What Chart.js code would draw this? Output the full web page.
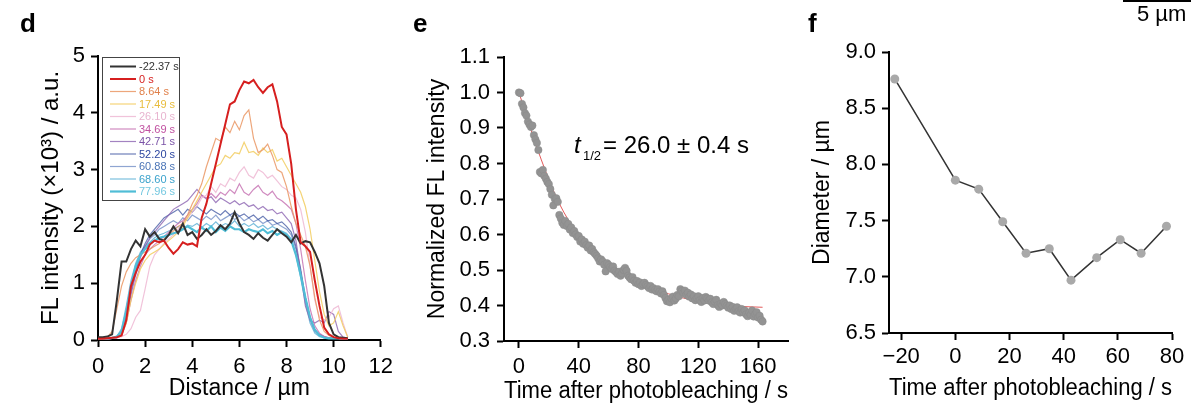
<!DOCTYPE html>
<html><head><meta charset="utf-8">
<script src="https://cdn.jsdelivr.net/npm/chart.js@4/dist/chart.umd.min.js"></script>
<style>
html,body{margin:0;padding:0;background:#fff;width:1191px;height:405px;overflow:hidden;}
canvas{position:absolute;top:0;}
</style></head>
<body>
<canvas id="cd" width="400" height="405" style="left:0px"></canvas>
<canvas id="ce" width="400" height="405" style="left:400px"></canvas>
<canvas id="cf" width="391" height="405" style="left:800px"></canvas>
<script>
// ---------- Panel d data: FL intensity profiles (x10^3 a.u.) vs distance (µm)
const distanceUm = [0,0.2,0.4,0.6,0.8,1.0,1.2,1.4,1.6,1.8,2.0,2.2,2.4,2.6,2.8,3.0,3.2,3.4,3.6,3.8,4.0,4.2,4.4,4.6,4.8,5.0,5.2,5.4,5.6,5.8,6.0,6.2,6.4,6.6,6.8,7.0,7.2,7.4,7.6,7.8,8.0,8.2,8.4,8.6,8.8,9.0,9.2,9.4,9.6,9.8,10.0,10.2,10.4,10.6];
const profileLabels = ['-22.37 s','0 s','8.64 s','17.49 s','26.10 s','34.69 s','42.71 s','52.20 s','60.88 s','68.60 s','77.96 s'];
const prof_m2237 = [0.05,0.05,0.06,0.10,0.70,1.38,1.38,1.60,1.75,1.65, 1.95,1.82,1.90,1.78,1.75,1.85,2.00,1.88,2.05,1.85, 1.90,1.78,1.85,1.95,1.85,1.92,2.02,1.95,2.05,2.25, 2.05,1.90,1.85,1.78,1.88,1.80,1.75,1.85,1.95,1.88, 1.82,1.72,1.85,1.70,1.74,1.72,1.55,1.35,0.95,0.30, 0.10,0.05,0.04,0.03];
const prof_0 = [0.02,0.02,0.03,0.04,0.05,0.08,0.35,0.95,1.18,1.38, 1.50,1.68,1.75,1.72,1.75,1.62,1.52,1.60,1.72,1.68, 1.70,1.65,2.15,2.40,2.75,3.10,3.45,3.80,4.15,4.20, 4.40,4.55,4.52,4.58,4.45,4.35,4.45,4.50,4.20,3.75, 3.62,3.10,2.30,1.72,1.65,1.55,1.05,0.60,0.22,0.10, 0.05,0.03,0.02,0.02];
const prof_864 = [0.03,0.03,0.05,0.15,0.55,0.95,1.20,1.35,1.45,1.50, 1.55,1.60,1.65,1.70,1.78,1.85,1.92,2.00,2.05,2.20, 2.40,2.55,2.75,3.05,3.30,3.55,3.50,3.75,3.65,3.85, 3.70,3.95,4.05,3.55,3.30,3.35,3.45,3.25,3.00,2.95, 2.70,2.35,2.05,1.85,1.65,1.30,0.75,0.35,0.15,0.08, 0.05,0.04,0.03,0.02];
const prof_1749 = [0.02,0.02,0.03,0.04,0.05,0.10,0.30,0.70,1.00,1.25, 1.40,1.50,1.55,1.60,1.68,1.75,1.82,1.90,2.00,2.15, 2.30,2.45,2.60,2.75,2.90,3.05,3.10,3.25,3.20,3.30, 3.28,3.48,3.30,3.32,3.25,3.38,3.30,3.35,3.15,3.20, 3.05,2.90,2.75,2.60,2.35,1.95,1.40,0.85,0.45,0.25, 0.30,0.50,0.25,0.05];
const prof_2610 = [0.02,0.02,0.02,0.03,0.04,0.06,0.10,0.20,0.40,0.52, 0.90,1.30,1.50,1.60,1.70,1.78,1.85,1.95,2.05,2.15, 2.25,2.35,2.50,2.55,2.70,2.60,2.75,2.70,2.85,2.80, 2.95,3.05,2.90,2.85,3.00,2.95,2.85,2.90,2.80,2.70, 2.65,2.55,2.50,2.30,1.90,1.30,0.70,0.40,0.35,0.40, 0.55,0.60,0.30,0.05];
const prof_3469 = [0.02,0.02,0.02,0.03,0.04,0.08,0.30,0.70,1.05,1.30, 1.50,1.60,1.68,1.75,1.82,1.90,1.98,2.05,2.10,2.20, 2.30,2.40,2.55,2.50,2.58,2.50,2.60,2.55,2.65,2.58, 2.75,2.60,2.55,2.65,2.72,2.60,2.55,2.62,2.50,2.45, 2.38,2.30,2.05,1.60,1.05,0.55,0.25,0.12,0.06,0.04, 0.03,0.03,0.02,0.02];
const prof_4271 = [0.02,0.02,0.02,0.03,0.04,0.10,0.35,0.80,1.15,1.45, 1.65,1.80,1.90,2.00,2.10,2.20,2.30,2.35,2.40,2.45, 2.55,2.65,2.55,2.48,2.52,2.42,2.50,2.45,2.40,2.45, 2.38,2.42,2.35,2.38,2.30,2.35,2.28,2.30,2.22,2.25, 2.15,2.05,1.75,1.20,0.60,0.35,0.30,0.35,0.30,0.50, 0.45,0.15,0.05,0.03];
const prof_5220 = [0.02,0.02,0.02,0.03,0.04,0.10,0.40,0.85,1.20,1.50, 1.70,1.85,1.95,2.05,2.15,2.20,2.25,2.30,2.20,2.30, 2.25,2.35,2.28,2.22,2.30,2.25,2.20,2.28,2.20,2.25, 2.18,2.22,2.15,2.20,2.12,2.18,2.10,2.12,2.05,2.08, 2.00,1.90,1.65,1.25,0.75,0.40,0.18,0.10,0.06,0.04, 0.03,0.03,0.02,0.02];
const prof_6088 = [0.02,0.02,0.02,0.03,0.05,0.15,0.45,0.90,1.25,1.50, 1.65,1.78,1.85,1.95,2.00,2.05,2.10,2.05,2.15,2.10, 2.20,2.15,2.10,2.18,2.12,2.20,2.10,2.15,2.20,2.12, 2.18,2.10,2.15,2.08,2.12,2.05,2.10,2.02,2.05,2.00, 1.95,1.85,1.60,1.20,0.70,0.35,0.15,0.08,0.05,0.04, 0.03,0.03,0.02,0.02];
const prof_6860 = [0.03,0.03,0.03,0.04,0.06,0.20,0.60,1.05,1.35,1.55, 1.65,1.72,1.80,1.85,1.88,1.92,1.95,2.00,1.95,2.02, 2.00,2.05,1.98,2.05,2.00,2.08,2.00,2.05,2.02,2.10, 2.00,2.05,2.00,2.05,1.98,2.02,1.95,2.00,1.95,1.92, 1.88,1.78,1.50,1.10,0.65,0.30,0.12,0.06,0.04,0.03, 0.03,0.03,0.02,0.02];
const prof_7796 = [0.03,0.03,0.03,0.04,0.06,0.15,0.50,0.95,1.30,1.50, 1.60,1.70,1.75,1.80,1.82,1.85,1.88,1.90,1.95,2.00, 1.95,1.90,1.98,1.92,2.00,1.90,1.98,1.92,2.00,1.95, 1.95,1.90,1.95,1.92,1.90,1.95,1.88,1.92,1.85,1.90, 1.85,1.75,1.50,1.15,0.75,0.40,0.18,0.08,0.04,0.03, 0.03,0.03,0.02,0.02];

// ---------- Panel e data: normalized FL intensity vs time (s)
const bleachTimes = [0,1,2,3,4,5,6,7,8,9,10,11,12,13,14,15,16,17,18,19,20,21,22,23,24,25,26,27,28,29,30,31,32,33,34,35,36,37,38,39,40,41,42,43,44,45,46,47,48,49,50,51,52,53,54,55,56,57,58,59,60,61,62,63,64,65,66,67,68,69,70,71,72,73,74,75,76,77,78,79,80,81,82,83,84,85,86,87,88,89,90,91,92,93,94,95,96,97,98,99,100,101,102,103,104,105,106,107,108,109,110,111,112,113,114,115,116,117,118,119,120,121,122,123,124,125,126,127,128,129,130,131,132,133,134,135,136,137,138,139,140,141,142,143,144,145,146,147,148,149,150,151,152,153,154,155,156,157,158,159,160,161,162,163];
const bleachValues = [1.000,0.998,0.968,0.958,0.942,0.935,0.918,0.910,0.903,0.907,
0.880,0.868,0.858,0.838,0.776,0.772,0.782,0.765,0.757,0.748,
0.742,0.728,0.712,0.682,0.700,0.702,0.692,0.655,0.645,0.633,
0.627,0.638,0.624,0.630,0.614,0.620,0.604,0.610,0.600,0.593,
0.596,0.580,0.586,0.574,0.580,0.570,0.563,0.569,0.555,0.559,
0.550,0.545,0.540,0.533,0.524,0.530,0.524,0.515,0.496,0.519,
0.514,0.508,0.503,0.510,0.498,0.494,0.489,0.495,0.484,0.490,
0.500,0.506,0.498,0.484,0.479,0.474,0.480,0.470,0.464,0.469,
0.460,0.465,0.455,0.460,0.464,0.458,0.454,0.449,0.455,0.445,
0.449,0.444,0.440,0.446,0.439,0.434,0.440,0.430,0.421,0.412,
0.416,0.409,0.420,0.425,0.414,0.420,0.430,0.426,0.446,0.441,
0.436,0.442,0.430,0.436,0.425,0.431,0.420,0.426,0.415,0.421,
0.426,0.415,0.410,0.421,0.414,0.424,0.420,0.414,0.419,0.409,
0.404,0.411,0.416,0.401,0.396,0.405,0.400,0.410,0.404,0.399,
0.394,0.400,0.390,0.396,0.385,0.391,0.395,0.384,0.380,0.390,
0.381,0.386,0.375,0.370,0.380,0.374,0.386,0.369,0.376,0.381,
0.366,0.371,0.360,0.355];
const fitTimes = [0,5,10,15,20,25,30,35,40,45,50,60,70,80,90,100,110,120,130,140,150,163];
const fitValues = [1.0,0.935,0.87,0.81,0.755,0.705,0.663,0.628,0.598,0.572,0.55,0.515,0.487,0.465,0.447,0.433,0.421,0.412,0.405,0.400,0.397,0.395];

// ---------- Panel f data: diameter vs time
const diamTimes = [-22.37,0,8.64,17.49,26.10,34.69,42.71,52.20,60.88,68.60,77.96];
const diamValues = [8.76,7.86,7.78,7.49,7.21,7.25,6.97,7.17,7.33,7.21,7.45];

// ---------- styling
const FONT = "'Liberation Sans', Arial, Helvetica, sans-serif";
Chart.defaults.font.family = FONT;
Chart.defaults.color = '#000';
Chart.defaults.animation = false;

const lineColors = ['#333333','#d61f1f','rgba(234,150,100,0.85)','rgba(242,205,95,0.85)','rgba(238,185,212,0.85)','rgba(196,110,176,0.8)','rgba(140,100,178,0.8)','rgba(62,84,160,0.75)','rgba(105,135,195,0.75)','rgba(90,175,212,0.8)','#4fbdd6'];
const lineWidths = [2,2,1.2,1.2,1.2,1.2,1.2,1.2,1.2,1.2,2.2];
const legendTextColors = ['#333333','#d61f1f','#e0804a','#e8bc3c','#e8b4cf','#c050a0','#7a52a6','#2c46a0','#4a74b6','#3aa2cc','#74c8e0'];
const drawOrder = [1,0,4,5,6,7,8,9,10,11,2];

function pairs(xs, ys){ return xs.map((x,i)=>({x:x, y:ys[i]})); }
function fmt1(v){ return v.toFixed(1); }
function minusFmt(v){ return v < 0 ? '\u2212' + Math.abs(v) : String(v); }

function xScale(o){
  return {
    type:'linear', position:'bottom', min:o.min, max:o.max,
    ticks:{stepSize:o.step, includeBounds:false, autoSkip:false, maxRotation:0, padding:o.tickPad, font:{size:22}, color:'#000', callback:o.fmt},
    grid:{display:true, drawOnChartArea:false, drawTicks:true, tickLength:7, tickWidth:2, tickColor:'#000', color:'#000'},
    border:{display:true, color:'#000', width:2},
    title:{display:true, text:o.title, font:{size:23}, color:'#000', padding:{top:0, bottom:o.titlePad}},
    afterFit:(s)=>{ s.height = o.size; }
  };
}
function yScale(o){
  return {
    type:'linear', position:'left', min:o.min, max:o.max,
    ticks:{stepSize:o.step, includeBounds:false, autoSkip:false, padding:o.tickPad, font:{size:22}, color:'#000', callback:o.fmt},
    grid:{display:true, drawOnChartArea:false, drawTicks:true, tickLength:7, tickWidth:2, tickColor:'#000', color:'#000'},
    border:{display:true, color:'#000', width:2},
    title:{display:true, text:o.title, font:{size:o.titleSize || 23}, color:'#000', padding:{top:o.titlePad, bottom:0}},
    afterFit:(s)=>{ s.width = o.size; }
  };
}
function letterPlugin(ch, x){
  return {id:'letter_'+ch, afterDraw(chart){
    const c = chart.ctx; c.save();
    c.font = 'bold 26px ' + FONT; c.fillStyle = '#000'; c.textBaseline = 'alphabetic'; c.textAlign='left';
    c.fillText(ch, x, 32); c.restore();
  }};
}

// ---------- Panel d
const profiles = [prof_m2237, prof_0, prof_864, prof_1749, prof_2610, prof_3469, prof_4271, prof_5220, prof_6088, prof_6860, prof_7796];
const legendPlugin = {id:'boxLegend', afterDraw(chart){
  const c = chart.ctx; c.save();
  c.fillStyle = '#fff'; c.fillRect(102,57,78,144);
  c.strokeStyle = '#444'; c.lineWidth = 1; c.strokeRect(102.5,57.5,77,143);
  chart.data.datasets.forEach((ds,i)=>{
    const y = 66.5 + i*12.5;
    c.strokeStyle = ds.borderColor; c.lineWidth = ds.borderWidth;
    c.beginPath(); c.moveTo(110,y); c.lineTo(136,y); c.stroke();
    c.fillStyle = legendTextColors[i]; c.font = '11px ' + FONT; c.textBaseline = 'middle'; c.textAlign='left';
    c.fillText(ds.label, 139, y + 0.5);
  });
  c.restore();
}};
new Chart(document.getElementById('cd'), {
  type:'line',
  data:{datasets: profiles.map((p,i)=>({label:profileLabels[i], data:pairs(distanceUm,p), borderColor:lineColors[i], borderWidth:lineWidths[i], pointRadius:0, tension:0, order:drawOrder[i], fill:false}))},
  options:{
    responsive:false, animation:false, events:[],
    layout:{padding:{left:0, top:56, right:18, bottom:0}},
    plugins:{legend:{display:false}, tooltip:{enabled:false}},
    scales:{
      x: xScale({min:0, max:12, step:2, tickPad:7, title:'Distance / µm', titlePad:3, size:65}),
      y: yScale({min:0, max:5, step:1, tickPad:6, title:'FL intensity (×10³) / a.u.', titlePad:37, size:98, titleSize:24})
    }
  },
  plugins:[legendPlugin, letterPlugin('d', 20)]
});

// ---------- Panel e
const annotPlugin = {id:'annot', afterDraw(chart){
  const c = chart.ctx; c.save(); c.fillStyle = '#000'; c.textBaseline='alphabetic'; c.textAlign='left';
  c.font = 'italic 24px ' + FONT; c.fillText('t', 174, 153);
  c.font = '13px ' + FONT; c.fillText('1/2', 183, 160);
  c.font = '24px ' + FONT; c.fillText('= 26.0 \u00b1 0.4 s', 203, 153);
  c.restore();
}};
new Chart(document.getElementById('ce'), {
  type:'line',
  data:{datasets:[
    {label:'data', data:pairs(bleachTimes,bleachValues), showLine:false, pointRadius:3.7, pointBackgroundColor:'#939393', pointBorderColor:'#8a8a8a', pointBorderWidth:0.5, order:0},
    {label:'fit', data:pairs(fitTimes,fitValues), borderColor:'rgba(225,80,80,0.95)', borderWidth:1, pointRadius:0, cubicInterpolationMode:'monotone', order:1}
  ]},
  options:{
    responsive:false, animation:false, events:[],
    layout:{padding:{left:0, top:57, right:12, bottom:0}},
    plugins:{legend:{display:false}, tooltip:{enabled:false}},
    scales:{
      x: xScale({min:-10, max:180, step:40, tickPad:6, title:'Time after photobleaching / s', titlePad:0, size:64}),
      y: yScale({min:0.3, max:1.1, step:0.1, tickPad:7, title:'Normalized FL intensity', titlePad:24, size:104, fmt:fmt1})
    }
  },
  plugins:[annotPlugin, letterPlugin('e', 13)]
});

// ---------- Panel f
const scaleBarPlugin = {id:'sbar', afterDraw(chart){
  const c = chart.ctx; c.save();
  c.strokeStyle = '#000'; c.lineWidth = 2; c.beginPath(); c.moveTo(323,1); c.lineTo(391,1); c.stroke();
  c.fillStyle = '#000'; c.font = '22px ' + FONT; c.textBaseline='alphabetic'; c.textAlign='left';
  c.fillText('5 µm', 337, 21);
  c.restore();
}};
new Chart(document.getElementById('cf'), {
  type:'line',
  data:{datasets:[
    {label:'Diameter', data:pairs(diamTimes,diamValues), borderColor:'#333', borderWidth:1.5, pointRadius:4.5, pointBackgroundColor:'#a9a9a9', pointBorderWidth:0, tension:0}
  ]},
  options:{
    responsive:false, animation:false, events:[],
    layout:{padding:{left:0, top:52, right:19, bottom:0}},
    plugins:{legend:{display:false}, tooltip:{enabled:false}},
    scales:{
      x: xScale({min:-24.5, max:80, step:20, tickPad:4, title:'Time after photobleaching / s', titlePad:3, size:72, fmt:minusFmt}),
      y: yScale({min:6.5, max:9.0, step:0.5, tickPad:6, title:'Diameter / µm', titlePad:9, size:89, fmt:fmt1})
    }
  },
  plugins:[scaleBarPlugin, letterPlugin('f', 8)]
});
</script>
</body></html>
